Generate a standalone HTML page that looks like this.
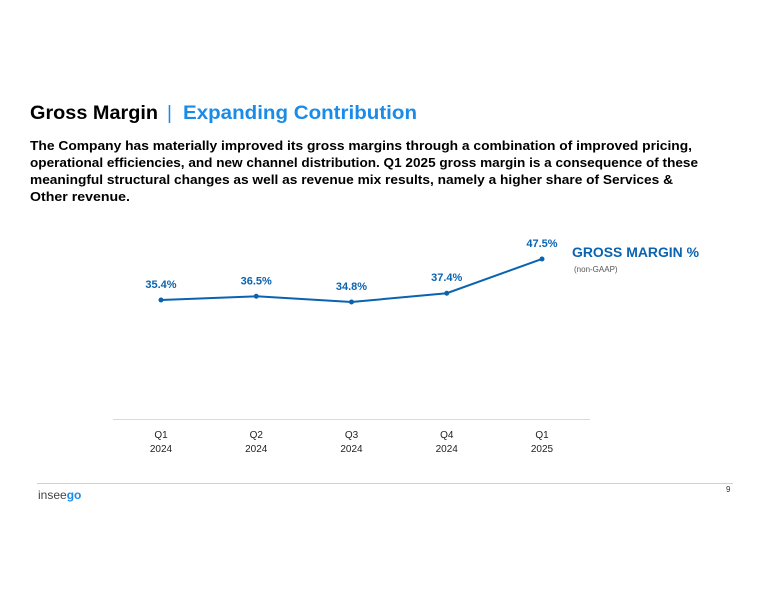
<!DOCTYPE html>
<html><head><meta charset="utf-8"><style>
html,body{margin:0;padding:0;background:#fff;}
svg{display:block;font-family:"Liberation Sans",sans-serif;}
</style></head><body>
<svg width="768" height="592" viewBox="0 0 768 592">
<g>
<text x="30" y="119" font-size="19" font-weight="bold" fill="#000" textLength="128" lengthAdjust="spacingAndGlyphs">Gross Margin</text>
<text x="167" y="119" font-size="19" fill="#1a8ce8">|</text>
<text x="183" y="119" font-size="19" font-weight="bold" fill="#1a8ce8" textLength="234" lengthAdjust="spacingAndGlyphs">Expanding Contribution</text>
</g>
<g font-size="13" font-weight="bold" fill="#000">
<text x="30" y="150" textLength="662" lengthAdjust="spacingAndGlyphs">The Company has materially improved its gross margins through a combination of improved pricing,</text>
<text x="30" y="167" textLength="668" lengthAdjust="spacingAndGlyphs">operational efficiencies, and new channel distribution. Q1 2025 gross margin is a consequence of these</text>
<text x="30" y="184" textLength="643" lengthAdjust="spacingAndGlyphs">meaningful structural changes as well as revenue mix results, namely a higher share of Services &amp;</text>
<text x="30" y="201" textLength="100" lengthAdjust="spacingAndGlyphs">Other revenue.</text>
</g>
<line x1="113" y1="419.5" x2="590" y2="419.5" stroke="#d9d9d9" stroke-width="1"/>
<g id="chart"></g>
<text x="572" y="257" font-size="13.5" font-weight="bold" fill="#0a63b0" textLength="127" lengthAdjust="spacingAndGlyphs">GROSS MARGIN %</text>
<text x="574" y="272" font-size="8" fill="#555">(non-GAAP)</text>
<line x1="37" y1="483.5" x2="733" y2="483.5" stroke="#d0d0d0" stroke-width="1"/>
<text x="38" y="499" font-size="12" fill="#444">insee<tspan fill="#1a8ce8" font-weight="bold">go</tspan></text>
<text x="726" y="492" font-size="8" fill="#333">9</text>
</svg>
<script>
const categories = ["Q1|2024","Q2|2024","Q3|2024","Q4|2024","Q1|2025"];
const values = [35.4, 36.5, 34.8, 37.4, 47.5];
const valueLabels = ["35.4%","36.5%","34.8%","37.4%","47.5%"];
const NS = "http://www.w3.org/2000/svg";
const g = document.getElementById("chart");
function xScale(i){ return 161 + i * 95.25; }
function yScale(v){ return 420 - v * 3.39; }
function mk(tag, attrs){ const e = document.createElementNS(NS, tag); for (const k in attrs) e.setAttribute(k, attrs[k]); g.appendChild(e); return e; }
const line = mk("polyline", {points: values.map((v,i)=>xScale(i)+","+yScale(v)).join(" "), fill:"none", stroke:"#0a63b0", "stroke-width":"2"});


values.forEach((v,i)=>{
  const c = mk("circle", {cx:xScale(i), cy:yScale(v), r:"2.5", fill:"#0a63b0"});
  
  
  const t = mk("text", {x:xScale(i), y:yScale(v)-12, "text-anchor":"middle", "font-size":"11", "font-weight":"bold", fill:"#0a63b0"});
  t.textContent = valueLabels[i];
  
  
  const parts = categories[i].split("|");
  const a = mk("text", {x:xScale(i), y:438, "text-anchor":"middle", "font-size":"10", fill:"#222"});
  a.textContent = parts[0];
  
  
  const b = mk("text", {x:xScale(i), y:452, "text-anchor":"middle", "font-size":"10", fill:"#222"});
  b.textContent = parts[1];
  
  
});
</script>
</body></html>
